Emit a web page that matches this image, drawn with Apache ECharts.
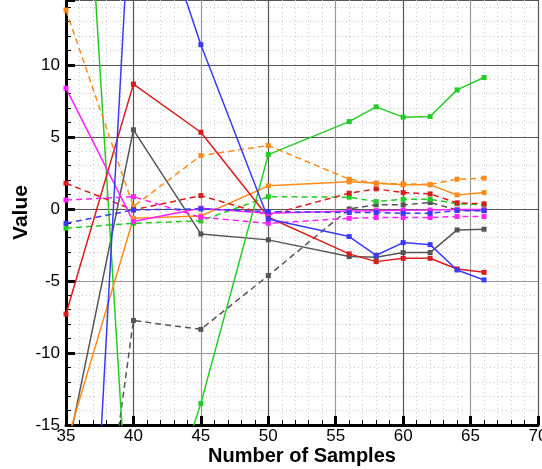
<!DOCTYPE html>
<html><head><meta charset="utf-8">
<script src="https://cdn.jsdelivr.net/npm/echarts@6/dist/echarts.min.js"></script>
<style>html,body{margin:0;padding:0;background:#fff}#c{width:542px;height:469px}</style>
</head><body><div id="c"></div>
<script>
const samples = [35, 40, 45, 50, 56, 58, 60, 62, 64, 66];
const xTicks = [35, 40, 45, 50, 55, 60, 65, 70];
const yTicks = [-15, -10, -5, 0, 5, 10];

const redSolid      = [-7.3, 8.66, 5.32, -0.58, -3.12, -3.66, -3.43, -3.43, -4.17, -4.4];
const redDashed     = [1.78, -0.07, 0.92, -0.42, 1.09, 1.39, 1.13, 1.04, 0.42, 0.35];
const orangeSolid   = [-16.4, -0.65, -0.49, 1.6, 1.88, 1.78, 1.67, 1.67, 0.97, 1.13];
const orangeDashed  = [13.8, 0.16, 3.7, 4.4, 2.06, 1.78, 1.74, 1.7, 2.06, 2.13];
const greenSolid    = [48, -28, -13.5, 3.77, 6.06, 7.08, 6.37, 6.41, 8.26, 9.12];
const greenDashed   = [-1.34, -1.0, -0.83, 0.85, 0.81, 0.51, 0.67, 0.67, 0.35, 0.28];
const blueSolid     = [-60, 25.4, 11.4, -0.7, -1.92, -3.22, -2.34, -2.48, -4.24, -4.93];
const blueDashed    = [-1.0, -0.07, 0.0, -0.19, -0.25, -0.25, -0.3, -0.3, -0.12, -0.12];
const magentaSolid  = [8.38, -0.88, 0.05, -0.3, -0.15, -0.12, -0.1, -0.08, -0.05, -0.05];
const magentaDashed = [0.62, 0.85, -0.58, -1.0, -0.65, -0.6, -0.6, -0.6, -0.53, -0.53];
const graySolid     = [-17.3, 5.49, -1.74, -2.15, -3.31, -3.36, -3.03, -3.03, -1.46, -1.41];
const grayDashed    = [-42, -7.75, -8.36, -4.63, 0.0, 0.28, 0.28, 0.44, -0.07, -0.12];

const seriesDefs = [
  ['Gray dashed', grayDashed, '#555555', true],
  ['Gray', graySolid, '#555555', false],
  ['Green dashed', greenDashed, '#22cc22', true],
  ['Green', greenSolid, '#22cc22', false],
  ['Orange dashed', orangeDashed, '#ff8c1a', true],
  ['Orange', orangeSolid, '#ff8c1a', false],
  ['Red dashed', redDashed, '#d91c1c', true],
  ['Red', redSolid, '#d91c1c', false],
  ['Magenta dashed', magentaDashed, '#ff22ff', true],
  ['Magenta', magentaSolid, '#ff22ff', false],
  ['Blue dashed', blueDashed, '#3a3aff', true],
  ['Blue', blueSolid, '#3a3aff', false]
];

const font = 'Liberation Sans, Arial, sans-serif';
const chart = echarts.init(document.getElementById('c'));
chart.setOption({
  animation: false,
  backgroundColor: '#fff',
  grid: {left: 66, right: 4, top: 0, bottom: 44, containLabel: false, outerBoundsMode: 'none'},
  xAxis: {
    type: 'value', min: xTicks[0], max: xTicks[xTicks.length - 1], interval: 5,
    name: 'Number of Samples', nameLocation: 'middle', nameGap: 21, nameMoveOverlap: false,
    nameTextStyle: {fontFamily: font, fontSize: 20, fontWeight: 'bold', color: '#000'},
    axisLine: {onZero: false, lineStyle: {color: '#000', width: 3}},
    axisTick: {inside: true, length: 9, lineStyle: {color: '#000', width: 3}},
    minorTick: {show: true, splitNumber: 5, length: 5, lineStyle: {color: '#000', width: 1}},
    axisLabel: {fontFamily: font, fontSize: 17, color: '#000', margin: 3, showMaxLabel: true},
    splitLine: {show: true, lineStyle: {color: ['#999', '#555'], width: 1.2}},
    minorSplitLine: {show: true, lineStyle: {color: '#ccc', type: [1, 3], width: 1}}
  },
  yAxis: {
    type: 'value', min: yTicks[0], max: 14.5, interval: 5,
    name: 'Value', nameLocation: 'middle', nameGap: 34, nameMoveOverlap: false,
    nameTextStyle: {fontFamily: font, fontSize: 21, fontWeight: 'bold', color: '#000'},
    axisLine: {onZero: false, lineStyle: {color: '#000', width: 3}},
    axisTick: {inside: true, length: 9, lineStyle: {color: '#000', width: 3}},
    minorTick: {show: true, splitNumber: 5, length: 5, lineStyle: {color: '#000', width: 1}},
    axisLabel: {fontFamily: font, fontSize: 17, color: '#000', margin: 6,
      formatter: v => (yTicks.indexOf(v) >= 0 ? String(v) : '')},
    splitLine: {show: true, lineStyle: {color: ['#999', '#999', '#999', '#555', '#555', '#555', '#555'], width: 1.2}},
    minorSplitLine: {show: true, lineStyle: {color: '#ccc', type: [1, 3], width: 1}}
  },
  series: seriesDefs.map(([name, vals, color, dashed]) => ({
    name, type: 'line', clip: true,
    data: samples.map((x, i) => [x, vals[i]]),
    symbol: 'rect', symbolSize: 5, showSymbol: true,
    itemStyle: {color},
    lineStyle: {color, width: 1.5, type: dashed ? [6, 4] : 'solid'},
    emphasis: {disabled: true}
  }))
});
</script></body></html>
